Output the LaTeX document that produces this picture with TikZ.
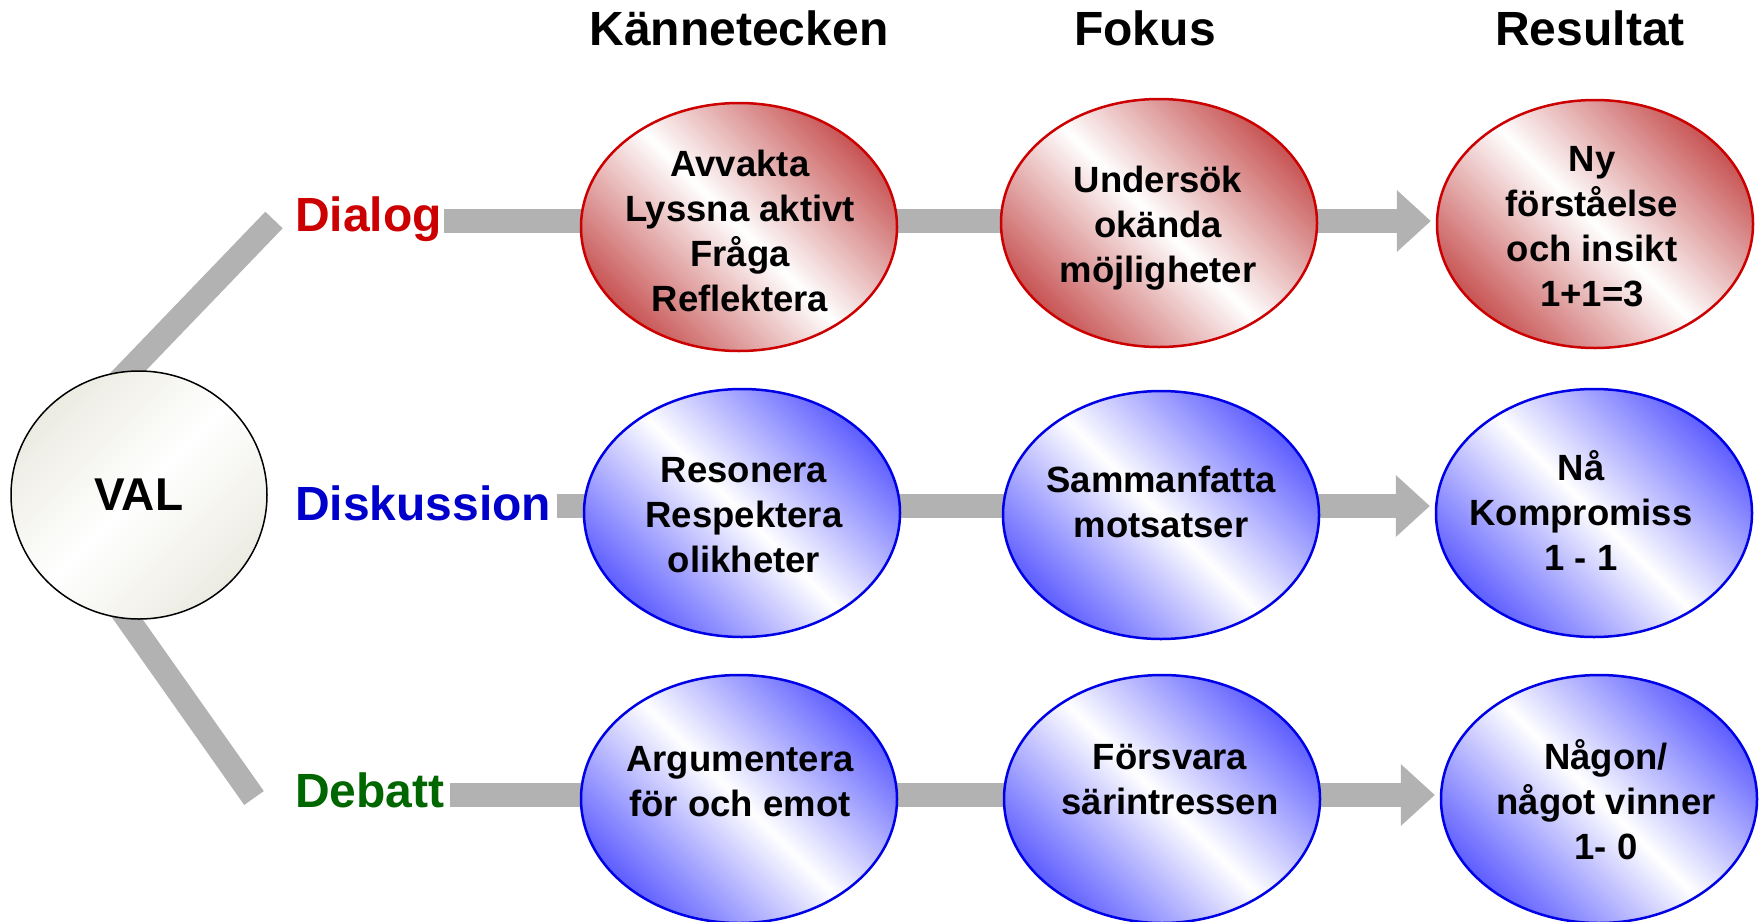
\documentclass[tikz,border=0pt]{standalone}
\usepackage{fontspec}
\setmainfont{Liberation Sans}
\usetikzlibrary{shapes.geometric,arrows.meta,backgrounds}
\definecolor{dred}{RGB}{204,0,0}
\definecolor{dblue}{RGB}{0,0,204}
\definecolor{dgreen}{RGB}{0,102,0}
\definecolor{barc}{RGB}{178,178,178}
\definecolor{shred}{RGB}{200,85,85}
\definecolor{shblue}{RGB}{95,95,255}
\definecolor{ovred}{RGB}{204,0,0}
\definecolor{ovblue}{RGB}{0,0,230}
\definecolor{valg}{RGB}{236,235,226}
\begin{document}
\begin{tikzpicture}[x=1pt,y=-1pt,
  title/.style={font=\fontsize{48}{56}\selectfont\bfseries, anchor=base, inner sep=0},
  lab/.style={font=\fontsize{48}{56}\selectfont\bfseries, anchor=base west, inner sep=0},
  oval/.style={ellipse, minimum width=316pt, minimum height=248pt, inner sep=0, line width=2.5pt},
  redoval/.style={oval, draw=ovred, top color=shred, bottom color=shred, middle color=white, shading angle=-45},
  blueoval/.style={oval, draw=ovblue, top color=shblue, bottom color=shblue, middle color=white, shading angle=-45},
  valc/.style={ellipse, minimum width=256pt, minimum height=248pt, inner sep=0, draw=black, line width=1.5pt,
    top color=valg, bottom color=valg, middle color=white, shading angle=45,
    font=\fontsize{46}{50}\selectfont\bfseries},
  txt/.style={font=\fontsize{36.5}{45}\selectfont\bfseries, align=center, inner sep=0},
  bar/.style={draw=barc, line width=24pt},
  arr/.style={bar, -{Triangle[length=34pt,width=62pt,line width=0pt]}, shorten >=5pt}
]
\useasboundingbox (0,0) rectangle (1764,921);

% titles
\node[title] (t1) at (739,45) {Kännetecken};
\node[title] (t2) at (1145,45) {Fokus};
\node[title] (t3) at (1590,45) {Resultat};

% VAL
\node[valc] (val) at (139,495) {VAL};

% row labels
\node[lab, text=dred] (dialog) at (295,231) {Dialog};
\node[lab, text=dblue] (disk) at (295,520) {Diskussion};
\node[lab, text=dgreen] (debatt) at (295,807) {Debatt};

% ellipses
\node[redoval] (e11) at (739,227) {};
\node[redoval] (e12) at (1159,223) {};
\node[redoval] (e13) at (1595,224) {};
\node[blueoval] (e21) at (742,513) {};
\node[blueoval] (e22) at (1161,515) {};
\node[blueoval] (e23) at (1594,513) {};
\node[blueoval] (e31) at (739,799) {};
\node[blueoval] (e32) at (1162,799) {};
\node[blueoval] (e33) at (1599,799) {};

% ellipse texts
\node[txt] (e11t) at (740,231) {Avvakta\\Lyssna aktivt\\Fråga\\Reflektera};
\node[txt] (e12t) at (1158,228) {Undersök\\okända\\möjligheter};
\node[txt] (e13t) at (1592,227) {Ny\\förståelse\\och insikt\\1+1=3};
\node[txt] (e21t) at (744,515) {Resonera\\Respektera\\olikheter};
\node[txt] (e22t) at (1161,502) {Sammanfatta\\motsatser};
\node[txt] (e23t) at (1581,510) {Nå\\Kompromiss\\1 - 1};
\node[txt] (e31t) at (740,782) {Argumentera\\för och emot};
\node[txt] (e32t) at (1170,780) {Försvara\\särintressen};
\node[txt] (e33t) at (1606,800) {Någon/\\något vinner\\1- 0};

% connectors
\coordinate (d1a) at (100,401);
\coordinate (d1b) at (274,220);
\coordinate (d2a) at (96,574);
\coordinate (d2b) at (254,798);
\coordinate (b1) at (444,221);
\coordinate (b2) at (557,506);
\coordinate (b3) at (450,795);

\begin{pgfonlayer}{background}
\draw[bar] (d1a) -- (d1b);
\draw[bar] (d2a) -- (d2b);
\draw[bar] (b1) -- (e11.center |- b1);
\draw[bar] (e11.center |- b1) -- (e12.center |- b1);
\draw[arr] (e12.center |- b1) -- (e13.west |- b1);
\draw[bar] (b2) -- (e21.center |- b2);
\draw[bar] (e21.center |- b2) -- (e22.center |- b2);
\draw[arr] (e22.center |- b2) -- (e23.west |- b2);
\draw[bar] (b3) -- (e31.center |- b3);
\draw[bar] (e31.center |- b3) -- (e32.center |- b3);
\draw[arr] (e32.center |- b3) -- (e33.west |- b3);
\end{pgfonlayer}
\end{tikzpicture}
\end{document}
